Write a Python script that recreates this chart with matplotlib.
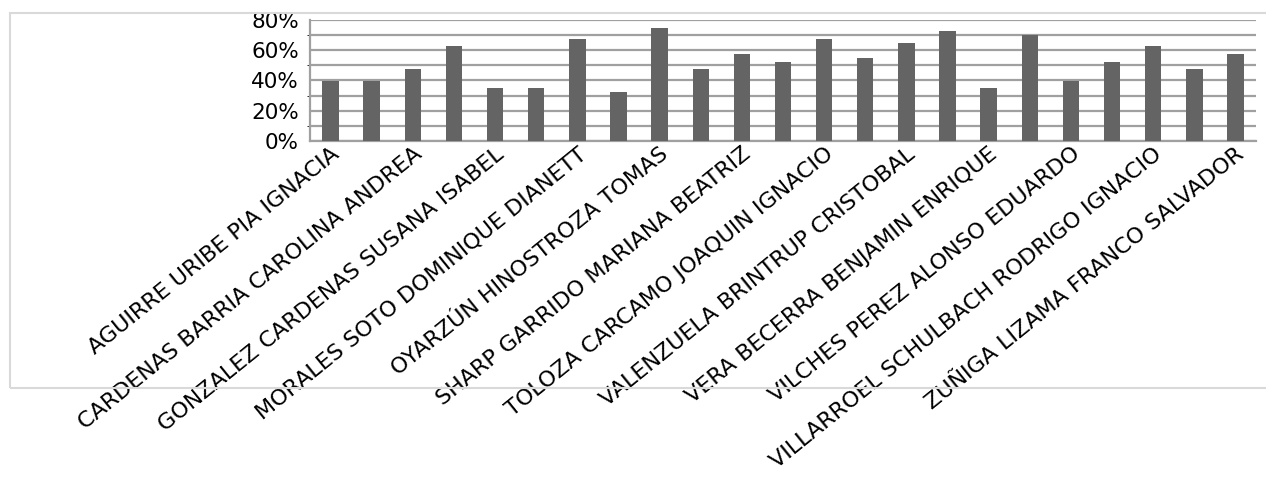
import matplotlib
matplotlib.use("Agg")
import matplotlib.pyplot as plt
from matplotlib.patches import Rectangle
from matplotlib.ticker import MultipleLocator, FuncFormatter

# one bar per student, only every second name is printed on the axis
values = [0.40, 0.40, 0.475, 0.625, 0.35, 0.35, 0.675, 0.325, 0.75, 0.475,
          0.575, 0.525, 0.675, 0.55, 0.65, 0.725, 0.35, 0.70, 0.40, 0.525,
          0.625, 0.475, 0.575]
shown_labels = [
    "AGUIRRE URIBE PIA IGNACIA",
    "CARDENAS BARRIA CAROLINA ANDREA",
    "GONZALEZ CARDENAS SUSANA ISABEL",
    "MORALES SOTO DOMINIQUE DIANETT",
    "OYARZÚN HINOSTROZA TOMAS",
    "SHARP GARRIDO MARIANA BEATRIZ",
    "TOLOZA CARCAMO JOAQUIN IGNACIO",
    "VALENZUELA BRINTRUP CRISTOBAL",
    "VERA BECERRA BENJAMIN ENRIQUE",
    "VILCHES PEREZ ALONSO EDUARDO",
    "VILLARROEL SCHULBACH RODRIGO IGNACIO",
    "ZUÑIGA LIZAMA FRANCO SALVADOR",
]

W, H = 1266, 479
fig = plt.figure(figsize=(W / 100, H / 100), dpi=100)
ax = fig.add_axes([310 / W, 1 - 141 / H, (1256 - 310) / W, (141 - 20) / H])

x = list(range(len(values)))
ax.bar(x, values, width=0.4, color="#646464", zorder=3)

ax.set_xlim(-0.5, len(values) - 0.5)
ax.set_ylim(0, 0.8)
ax.yaxis.set_major_locator(MultipleLocator(0.2))
ax.yaxis.set_minor_locator(MultipleLocator(0.1))
ax.yaxis.set_major_formatter(FuncFormatter(lambda v, p: "{:.0f}%".format(v * 100)))
ax.grid(axis="y", which="both", color="#a0a0a0", linewidth=1.6, zorder=0)

ax.set_xticks(x[::2])
ax.set_xticklabels(shown_labels, rotation=39, ha="right", va="top",
                   rotation_mode="anchor", fontsize=16)
ax.tick_params(axis="both", length=0)
ax.tick_params(axis="y", labelsize=15.5, pad=8)
ax.tick_params(axis="x", pad=2)

for side in ["top", "right"]:
    ax.spines[side].set_visible(False)
for side in ["left", "bottom"]:
    ax.spines[side].set_color("#a0a0a0")
    ax.spines[side].set_linewidth(1.6)

# light frame around the whole chart, open past the right edge
fig.patches.append(Rectangle((10 / W, 1 - 388 / H), 1.1, (388 - 13) / H,
                             transform=fig.transFigure, fill=False,
                             edgecolor="#d9d9d9", linewidth=1.5))

fig.savefig("out.png", dpi=100)
